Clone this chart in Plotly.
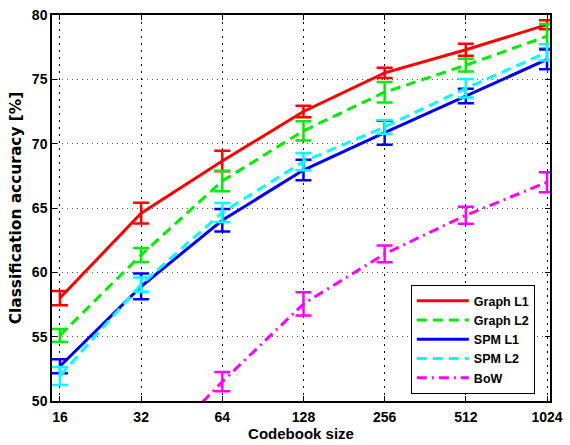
import plotly.graph_objects as go

codebook = [16, 32, 64, 128, 256, 512, 1024]
tick_labels = ["16", "32", "64", "128", "256", "512", "1024"]

graph_l1 = [58.0, 64.6, 68.65, 72.5, 75.5, 77.3, 79.25]
graph_l1_err = [0.55, 0.8, 0.8, 0.45, 0.4, 0.47, 0.35]

graph_l2 = [55.1, 61.35, 67.1, 71.0, 74.0, 76.1, 78.35]
graph_l2_err = [0.5, 0.55, 0.8, 0.75, 0.8, 0.5, 0.95]

spm_l1 = [52.7, 58.9, 64.05, 67.95, 70.85, 73.7, 76.55]
spm_l1_err = [0.55, 1.0, 0.88, 0.8, 0.93, 0.56, 0.76]

spm_l2 = [51.95, 59.05, 64.65, 68.6, 71.3, 74.3, 77.1]
spm_l2_err = [0.7, 0.55, 0.73, 0.66, 0.53, 0.72, 0.63]

bow = [None, 45.0, 51.5, 57.55, 61.43, 64.44, 67.0]
bow_err = [0, 0.75, 0.75, 0.9, 0.65, 0.66, 0.78]

series = [
    ("Graph L1", graph_l1, graph_l1_err, "#ff0000", "solid"),
    ("Graph L2", graph_l2, graph_l2_err, "#00ee00", "10px,6px"),
    ("SPM L1", spm_l1, spm_l1_err, "#0000ff", "solid"),
    ("SPM L2", spm_l2, spm_l2_err, "#00ffff", "10px,6px"),
    ("BoW", bow, bow_err, "#ff00ff", "10px,5px,2px,5px"),
]

fig = go.Figure()
for name, ys, errs, color, dash in series:
    fig.add_trace(go.Scatter(
        x=codebook, y=ys, name=name, mode="lines",
        line=dict(color=color, width=3, dash=dash),
        error_y=dict(type="data", array=errs, visible=True,
                     color=color, thickness=2.5, width=8),
    ))

sans = "Liberation Sans, Arial, sans-serif"

fig.update_layout(
    width=570, height=445,
    margin=dict(l=52, r=17, t=7, b=44),
    paper_bgcolor="white", plot_bgcolor="white",
    font=dict(family=sans, size=14, color="black", weight="bold"),
    showlegend=True,
    legend=dict(
        x=0.7206, y=0.018, xanchor="left", yanchor="bottom",
        bgcolor="white", bordercolor="black", borderwidth=1,
        font=dict(family=sans, size=12.5, color="black", weight="bold"),
        tracegroupgap=0, itemwidth=52,
    ),
    xaxis=dict(
        type="log",
        range=[1.1746, 3.0214],
        tickvals=codebook, ticktext=tick_labels,
        tickfont=dict(family=sans, size=14, color="black", weight="bold"),
        ticks="inside", ticklen=5, tickcolor="black",
        showline=True, linecolor="black", linewidth=1.5, mirror="ticks",
        showgrid=True, gridcolor="black", gridwidth=1, griddash="2px,5px",
        zeroline=False,
        ticklabelstandoff=2, ticklabeloverflow="allow",
        title=dict(text="Codebook size", standoff=2,
                   font=dict(family=sans, size=15, color="black", weight="bold")),
    ),
    yaxis=dict(
        range=[50, 80],
        tickvals=[50, 55, 60, 65, 70, 75, 80],
        tickfont=dict(family=sans, size=14, color="black", weight="bold"),
        ticks="inside", ticklen=5, tickcolor="black",
        showline=True, linecolor="black", linewidth=1.5, mirror="ticks",
        showgrid=True, gridcolor="#555555", gridwidth=1, griddash="1px,4px",
        zeroline=False,
        title=dict(text="Classification accuracy [%]", standoff=6,
                   font=dict(family="DejaVu Sans, sans-serif", size=15.4, color="black", weight="bold")),
    ),
)

fig.write_html(
    "out.html",
    config={"displayModeBar": False},
    post_script="document.body.style.margin='0';document.body.style.padding='0';",
)
